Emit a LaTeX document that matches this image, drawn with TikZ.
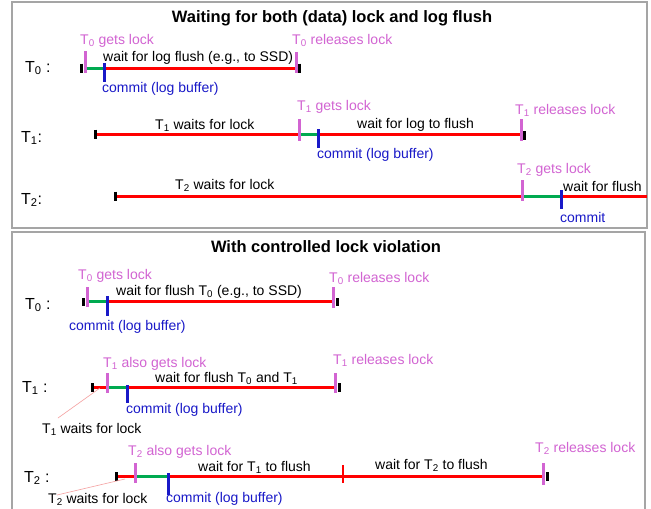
\documentclass[tikz,border=0pt]{standalone}
\usepackage{fontspec}
\setmainfont{Liberation Sans}
\usetikzlibrary{calc}

\definecolor{lockpink}{RGB}{210,100,210}
\definecolor{commitblue}{RGB}{25,25,200}
\definecolor{flushred}{RGB}{255,0,0}
\definecolor{bufgreen}{RGB}{0,170,80}
\definecolor{framegray}{RGB}{165,165,165}
\definecolor{leaderpink}{RGB}{245,160,160}

\newcommand{\sbs}[1]{\textsubscript{#1}}
% vertical tick of a given style at a point, from dy1 to dy2 (downwards positive)
\newcommand{\vtick}[4]{\draw[#1] ($(#2)+(0,#3)$) -- ($(#2)+(0,#4)$);}

\begin{document}
\begin{tikzpicture}[x=1pt,y=-1pt,
  lbl/.style={inner sep=0pt, anchor=base west, font=\fontsize{14}{16}\selectfont},
  locktxt/.style={lbl, text=lockpink},
  committxt/.style={lbl, text=commitblue},
  waittxt/.style={lbl, text=black},
  rowtxt/.style={inner sep=0pt, anchor=base west, font=\fontsize{16}{18}\selectfont},
  titletxt/.style={inner sep=0pt, anchor=base, font=\fontsize{16.5}{19}\selectfont\bfseries},
  panel/.style={draw=framegray, line width=1.2pt},
  redseg/.style={draw=flushred, line width=3pt},
  greenseg/.style={draw=bufgreen, line width=3pt},
  locktick/.style={draw=lockpink, line width=3pt},
  committick/.style={draw=commitblue, line width=3pt},
  endtick/.style={draw=black, line width=3pt},
  redtick/.style={draw=flushred, line width=2.5pt},
  leader/.style={draw=leaderpink, line width=0.6pt}]

\useasboundingbox (0,0) rectangle (651,509);
\fill[white] (0,0) rectangle (651,509);

% ---------------- panel 1: waiting for lock and log flush ----------------
\draw[panel] (12,2) rectangle (647,228);
\node[titletxt] (titleA) at (332,22) {Waiting for both (data) lock and log flush};

% T0
\coordinate (a0s) at (81.5,68);
\coordinate (a0l) at (85,68);
\coordinate (a0c) at (104,68);
\coordinate (a0r) at (296,68);
\coordinate (a0e) at (299.5,68);
\node[rowtxt] (rowA0) at (25,72) {T\sbs{0} :};
\draw[greenseg] (a0l) -- (a0c);
\draw[redseg] (a0c) -- (a0r);
\vtick{endtick}{a0s}{-4.5}{4.5}
\vtick{endtick}{a0e}{-4.5}{4.5}
\vtick{locktick}{a0l}{-17}{5}
\vtick{locktick}{a0r}{-16}{5}
\vtick{committick}{a0c}{-5}{14}
\node[locktxt] (a0lt) at (80,44) {T\sbs{0} gets lock};
\node[locktxt] (a0rt) at (292,44) {T\sbs{0} releases lock};
\node[waittxt] (a0wt) at (103,61) {wait for log flush (e.g., to SSD)};
\node[committxt] (a0ct) at (102,92) {commit (log buffer)};

% T1
\coordinate (a1s) at (95,134);
\coordinate (a1l) at (299,134);
\coordinate (a1c) at (318,134);
\coordinate (a1r) at (521,134);
\coordinate (a1e) at (524.5,134);
\node[rowtxt] (rowA1) at (21,142) {T\sbs{1}:};
\draw[redseg] (a1s) -- (a1l);
\draw[greenseg] (a1l) -- (a1c);
\draw[redseg] (a1c) -- (a1r);
\vtick{endtick}{a1s}{-4.5}{4.5}
\vtick{endtick}{a1e}{-3}{6}
\vtick{locktick}{a1l}{-15}{7}
\vtick{locktick}{a1r}{-15}{7}
\vtick{committick}{a1c}{-5}{14}
\node[waittxt] (a1wl) at (155,129) {T\sbs{1} waits for lock};
\node[locktxt] (a1lt) at (297,110) {T\sbs{1} gets lock};
\node[waittxt] (a1wt) at (357,128) {wait for log to flush};
\node[committxt] (a1ct) at (317,158) {commit (log buffer)};
\node[locktxt] (a1rt) at (515,114) {T\sbs{1} releases lock};

% T2
\coordinate (a2s) at (115,196);
\coordinate (a2l) at (522,196);
\coordinate (a2c) at (561,196);
\coordinate (a2e) at (647,196);
\node[rowtxt] (rowA2) at (21,204) {T\sbs{2}:};
\draw[redseg] (a2s) -- (a2l);
\draw[greenseg] (a2l) -- (a2c);
\draw[redseg] (a2c) -- (a2e);
\vtick{endtick}{a2s}{-4.5}{4.5}
\vtick{locktick}{a2l}{-16}{5}
\vtick{committick}{a2c}{-6}{13}
\node[waittxt] (a2wl) at (175,189) {T\sbs{2} waits for lock};
\node[locktxt] (a2lt) at (517,173) {T\sbs{2} gets lock};
\node[waittxt] (a2wt) at (563,191) {wait for flush};
\node[committxt] (a2ct) at (560,222) {commit};

% ---------------- panel 2: controlled lock violation ----------------
\draw[panel] (12,512) -- (12,232) -- (645,232) -- (645,512);
\node[titletxt] (titleB) at (326,252) {With controlled lock violation};

% T0
\coordinate (b0s) at (83,301);
\coordinate (b0l) at (87,301);
\coordinate (b0c) at (107,301);
\coordinate (b0r) at (333,301);
\coordinate (b0e) at (337,301);
\node[rowtxt] (rowB0) at (25,309) {T\sbs{0} :};
\draw[greenseg] (b0l) -- (b0c);
\draw[redseg] (b0c) -- (b0r);
\vtick{endtick}{b0s}{-3}{5}
\vtick{endtick}{b0e}{-3}{5}
\vtick{locktick}{b0l}{-14}{6}
\vtick{locktick}{b0r}{-14}{7}
\vtick{committick}{b0c}{-5}{15}
\node[locktxt] (b0lt) at (78,279) {T\sbs{0} gets lock};
\node[waittxt] (b0wt) at (116,295) {wait for flush T\sbs{0} (e.g., to SSD)};
\node[committxt] (b0ct) at (69,330) {commit (log buffer)};
\node[locktxt] (b0rt) at (329,282) {T\sbs{0} releases lock};

% T1
\coordinate (b1s) at (92,387);
\coordinate (b1l) at (107,387);
\coordinate (b1c) at (127,387);
\coordinate (b1r) at (335,387);
\coordinate (b1e) at (339,387);
\coordinate (b1w) at (100,388);
\coordinate (b1a) at (58,418);
\node[rowtxt] (rowB1) at (22,392) {T\sbs{1} :};
\draw[redseg] (b1s) -- (b1l);
\draw[greenseg] (b1l) -- (b1c);
\draw[redseg] (b1c) -- (b1r);
\vtick{endtick}{b1s}{-4}{5}
\vtick{endtick}{b1e}{-4}{5}
\vtick{locktick}{b1l}{-14}{6}
\vtick{locktick}{b1r}{-14}{6}
\vtick{committick}{b1c}{-2}{16}
\node[locktxt] (b1lt) at (103,367) {T\sbs{1} also gets lock};
\node[waittxt] (b1wt) at (155,382) {wait for flush T\sbs{0} and T\sbs{1}};
\node[committxt] (b1ct) at (126,413) {commit (log buffer)};
\node[locktxt] (b1rt) at (333,364) {T\sbs{1} releases lock};
\node[waittxt] (b1wl) at (42,433) {T\sbs{1} waits for lock};
\draw[leader] (b1a) -- (b1w);

% T2
\coordinate (b2s) at (116,476);
\coordinate (b2l) at (135,476);
\coordinate (b2c) at (168,476);
\coordinate (b2m) at (343,476);
\coordinate (b2r) at (543,476);
\coordinate (b2e) at (547,476);
\coordinate (b2w) at (125,479);
\coordinate (b2a) at (57,495);
\node[rowtxt] (rowB2) at (24,482) {T\sbs{2} :};
\draw[redseg] (b2s) -- (b2l);
\draw[greenseg] (b2l) -- (b2c);
\draw[redseg] (b2c) -- (b2r);
\vtick{endtick}{b2s}{-4}{5}
\vtick{endtick}{b2e}{-4}{5}
\vtick{locktick}{b2l}{-13}{7}
\vtick{locktick}{b2r}{-13}{9}
\vtick{committick}{b2c}{-3}{19}
\vtick{redtick}{b2m}{-11}{7}
\node[locktxt] (b2lt) at (128,455) {T\sbs{2} also gets lock};
\node[waittxt] (b2wt) at (198,471) {wait for T\sbs{1} to flush};
\node[waittxt] (b2wu) at (375,469) {wait for T\sbs{2} to flush};
\node[locktxt] (b2rt) at (535,452) {T\sbs{2} releases lock};
\node[committxt] (b2ct) at (166,502) {commit (log buffer)};
\node[waittxt] (b2wl) at (48,503) {T\sbs{2} waits for lock};
\draw[leader] (b2a) -- (b2w);

\end{tikzpicture}
\end{document}
